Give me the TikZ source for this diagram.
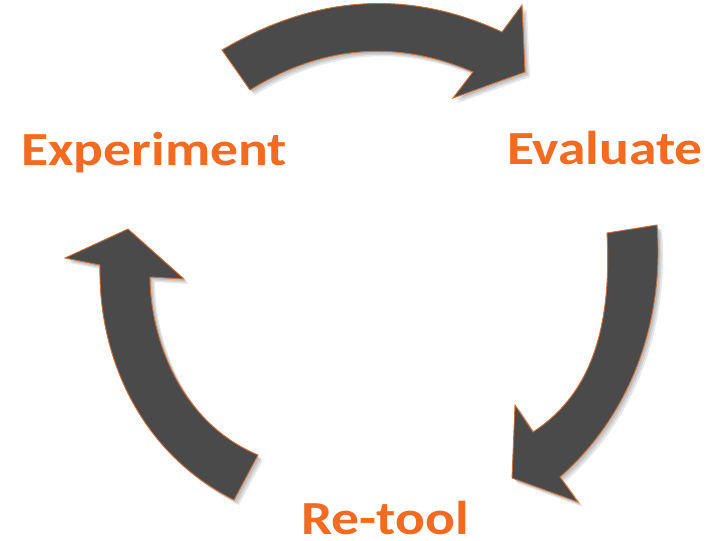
\documentclass[tikz,border=0pt]{standalone}
\usepackage{fontspec}
\setmainfont{Carlito}
\newfontfamily\labelfont[FakeStretch=1.17]{Carlito}
\definecolor{txtorange}{RGB}{243,107,33}
\definecolor{arrowgray}{RGB}{74,74,74}
\definecolor{edgeorange}{RGB}{205,110,55}
\tikzset{
  blockarrow/.style={fill=arrowgray, draw=edgeorange, line width=0.9pt, line join=miter},
  arrowshadow/.style={fill=black, fill opacity=0.09, draw=none},
  cyclelabel/.style={text=txtorange, font=\labelfont\fontsize{47.5}{50}\selectfont\bfseries, inner sep=0pt, anchor=base west}
}
\newcommand\toparrowpath[1]{\path[#1] (222,50) .. controls (315.3,-5.3) and (408.7,-11.3) .. (502,32) -- (522,5) -- (525,72) -- (453,98) -- (473,72) .. controls (396.7,39.3) and (322.3,45.3) .. (250,90) -- cycle;}
\newcommand\rightarrowpath[1]{\path[#1] (607,233) -- (657,225) .. controls (665,330) and (625,420) .. (560,477) -- (578,502) -- (512,478) -- (515,405) -- (533,432) .. controls (590,395) and (612,330) .. (607,233) -- cycle;}
\newcommand\leftarrowpath[1]{\path[#1] (258,455) -- (234,500) .. controls (135,450) and (98,350) .. (100,265) -- (65,258) -- (128,229) -- (184,279) -- (150,277) .. controls (150,330) and (175,420) .. (258,455) -- cycle;}
\begin{document}
\begin{tikzpicture}[x=1pt,y=-1pt]
\useasboundingbox[fill=white] (0,0) rectangle (718,541);
\foreach \d in {2,3.5,5}{
  \toparrowpath{arrowshadow, shift={(\d,\d)}}
  \rightarrowpath{arrowshadow, shift={(\d,\d)}}
  \leftarrowpath{arrowshadow, shift={(\d,\d)}}
}
\toparrowpath{blockarrow}
\rightarrowpath{blockarrow}
\leftarrowpath{blockarrow}
\node[cyclelabel] (experiment) at (21,165) {Experiment};
\node[cyclelabel] (evaluate) at (507,164.5) {Evaluate};
\node[cyclelabel] (retool) at (301,534) {Re-tool};
\end{tikzpicture}
\end{document}
